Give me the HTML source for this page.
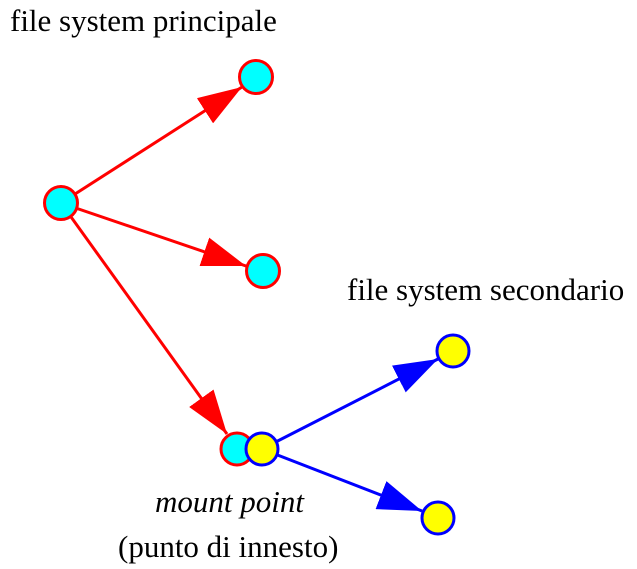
<!DOCTYPE html>
<html><head><meta charset="utf-8"><style>
html,body{margin:0;padding:0;background:#fff;}
svg{display:block}
text{font-family:"Liberation Serif",serif;font-size:31px;fill:#000}
</style></head><body>
<svg width="637" height="569" viewBox="0 0 637 569" xmlns="http://www.w3.org/2000/svg">
<defs>
<marker id="r" markerWidth="44" markerHeight="30" refX="44" refY="15" orient="auto" markerUnits="userSpaceOnUse"><path d="M0,0 L44,15 L0,30 Z" fill="#f00"/></marker>
<marker id="b" markerWidth="44" markerHeight="30" refX="44" refY="15" orient="auto" markerUnits="userSpaceOnUse"><path d="M0,0 L44,15 L0,30 Z" fill="#00f"/></marker>
</defs>
<text x="10" y="31" font-size="30.5">file system principale</text>
<text x="347" y="300" font-size="32">file system secondario</text>
<text x="155" y="512" font-size="32.5" font-style="italic">mount point</text>
<text x="118" y="557" font-size="32">(punto di innesto)</text>
<g stroke-width="3">
<line x1="61" y1="203" x2="242" y2="87" stroke="#f00" marker-end="url(#r)"/>
<line x1="61" y1="203" x2="246" y2="266" stroke="#f00" marker-end="url(#r)"/>
<line x1="61" y1="203" x2="227" y2="434" stroke="#f00" marker-end="url(#r)"/>
<line x1="262" y1="449" x2="438" y2="359" stroke="#00f" marker-end="url(#b)"/>
<line x1="262" y1="449" x2="422" y2="511" stroke="#00f" marker-end="url(#b)"/>
</g>
<g stroke-width="3">
<circle cx="61" cy="203" r="16.5" fill="#0ff" stroke="#f00"/>
<circle cx="256" cy="77" r="16.5" fill="#0ff" stroke="#f00"/>
<circle cx="263" cy="271" r="16.5" fill="#0ff" stroke="#f00"/>
<circle cx="237" cy="449" r="16" fill="#0ff" stroke="#f00"/>
<circle cx="262" cy="449" r="16" fill="#ff0" stroke="#00f"/>
<circle cx="453" cy="351" r="16" fill="#ff0" stroke="#00f"/>
<circle cx="438" cy="518" r="16" fill="#ff0" stroke="#00f"/>
</g>
</svg>
</body></html>
